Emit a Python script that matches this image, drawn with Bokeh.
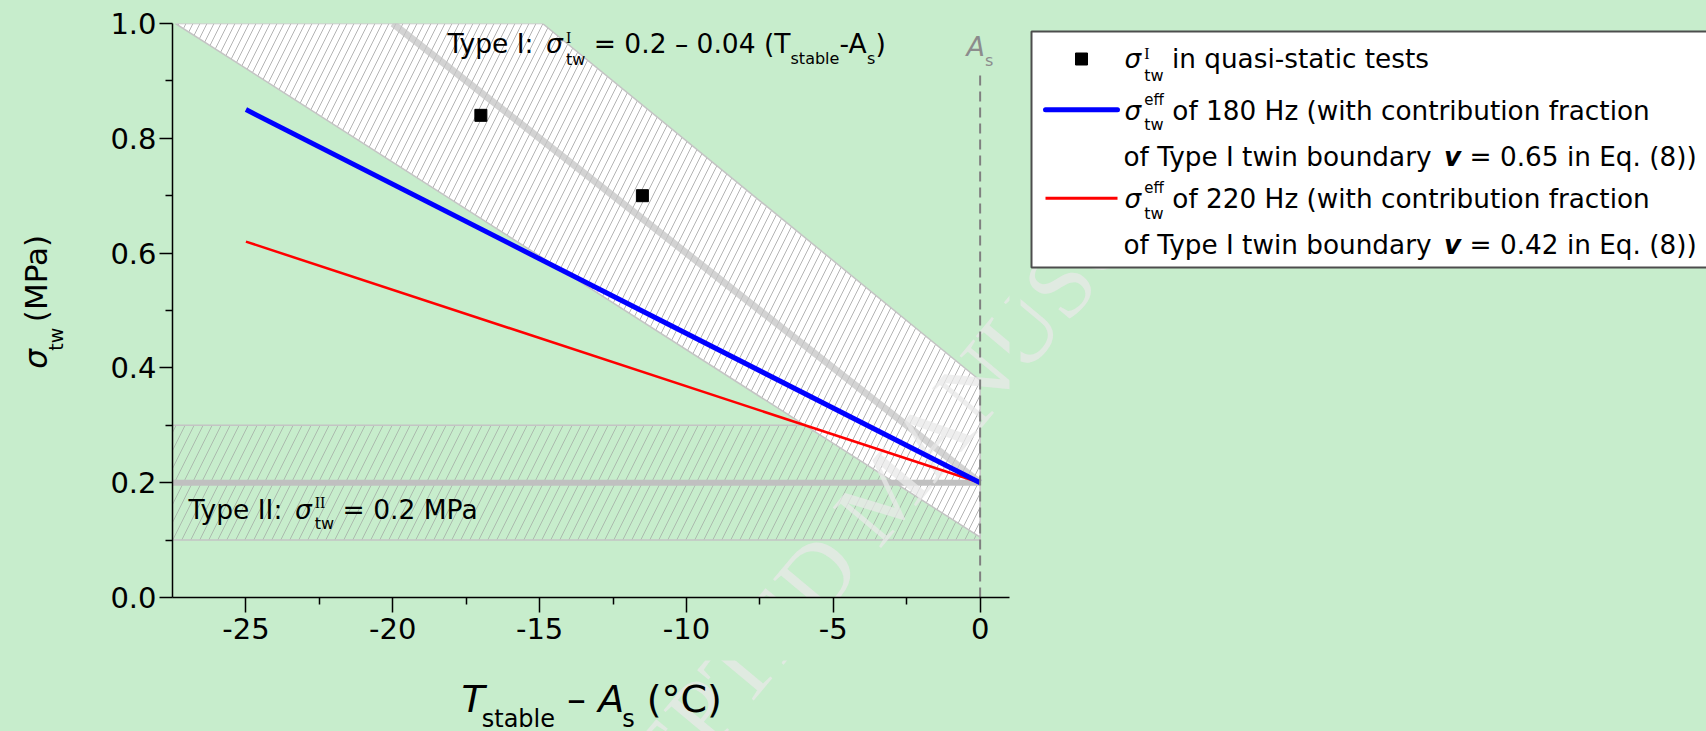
import math
from bokeh.plotting import figure
from bokeh.models import Label, Range1d, FixedTicker, NumeralTickFormatter
from bokeh.layouts import row, column
from bokeh.embed import file_html
from bokeh.resources import INLINE
from bokeh.core.properties import value

# ---------------- data ----------------
x_ticks = [-25, -20, -15, -10, -5, 0]
x_minor = [-22.5, -17.5, -12.5, -7.5, -2.5]
y_ticks = [0.0, 0.2, 0.4, 0.6, 0.8, 1.0]
y_minor = [0.1, 0.3, 0.5, 0.7, 0.9]

quasi_T = [-17.0, -11.5]
quasi_sigma = [0.84, 0.70]

eff180_T = [-25.0, 0.0]
eff180_sigma = [0.85, 0.20]
eff220_T = [-25.0, 0.0]
eff220_sigma = [0.62, 0.20]

typeI_T = [-20.0, 0.0]
typeI_sigma = [1.0, 0.2]
typeI_band_T = [-27.4, -14.9, 0.0, 0.0]
typeI_band_sigma = [1.0, 1.0, 0.378, 0.105]

typeII_T = [-27.5, 0.0]
typeII_sigma = [0.2, 0.2]
typeII_low = [0.1]
typeII_high = [0.3]

As_T = [0.0, 0.0]
As_sigma = [0.0, 0.915]

X_RANGE = (-27.5, 1.0)
Y_RANGE = (0.0, 1.0)

# ---------------- styling / geometry ----------------
BG = "#C7EDCC"
SANS = "DejaVu Sans"
SERIF = "Liberation Serif"
H = 731
MAINW = 1020          # width of the plot column (y title + main plot)
LEGW = 1706 - MAINW
YW = 95               # width of the strip holding the y title
MH = 660              # height of the main plot (x title strip below)
FL, FR, FT, FB = 172, 1009, 23, 597   # frame edges in page pixels
K = 0.36              # baseline correction (fraction of font size)

DJ = {' ': .318, '!': .401, '(': .390, ')': .390, '-': .361, '.': .318, ':': .337,
      '=': .838, '°': .5, '–': .5, '−': .838, 'σ': .635,
      'A': .684, 'C': .698, 'E': .632, 'H': .752, 'I': .295, 'M': .863, 'P': .603, 'T': .611,
      'a': .613, 'b': .635, 'c': .550, 'd': .635, 'e': .615, 'f': .352, 'h': .634, 'i': .278,
      'l': .278, 'n': .634, 'o': .612, 'p': .635, 'q': .635, 'r': .411, 's': .521, 't': .392,
      'u': .634, 'v': .592, 'w': .818, 'y': .592, 'z': .525}
for _d in "0123456789":
    DJ[_d] = .636


def textw(t, size, font=SANS, style="normal"):
    if font == SERIF:
        return sum(.333 if c == 'I' else .5 for c in t) * size
    w = sum(DJ.get(c, .6) for c in t) * size
    if "bold" in style:
        w *= 1.1
    return w


def put(fig, X, Y, text, size, style="normal", font=SANS, color="black", angle=0.0, screen=True):
    if angle == 0.0:
        Y = Y - K * size
    else:
        X = X - K * size
    if screen:
        kw = dict(x=X - FL, y=FB - Y, x_units="screen", y_units="screen")
    else:
        kw = dict(x=X, y=Y, x_units="data", y_units="data")
    fig.add_layout(Label(text=text, text_font=font, text_font_size=f"{size}px",
                         text_font_style=style, text_color=color, text_align="left",
                         text_baseline="alphabetic", angle=angle, angle_units="rad", **kw))


def rich(fig, X, Y, pieces, screen=True, vertical=False, color="black"):
    x = 0.0
    stackw = None
    for pc in pieces:
        t, size = pc["t"], pc["s"]
        font = pc.get("f", SANS)
        style = pc.get("st", "normal")
        x += pc.get("gap", 0)
        w = textw(t, size, font, style)
        lead = len(t) - len(t.lstrip(" "))
        off = textw(" " * lead, size)
        dy = pc.get("dy", 0)
        if vertical:
            put(fig, X + dy, Y - x - off, t.strip(), size, style, font, color, math.pi / 2, screen)
        else:
            put(fig, X + x + off, Y + dy, t.strip(), size, style, font, color, 0.0, screen)
        if pc.get("stack"):
            stackw = max(stackw or 0, w)
        else:
            x += max(w, stackw or 0)
            stackw = None


# faint diagonal watermark of the source page
WM_TEXT = "ACCEPTED MANUSCRIPT"
WM_ANG = 0.875
WM_SIZE = 96
WM_X = 547 - math.sin(WM_ANG) * K * WM_SIZE
WM_Y = 950 - math.cos(WM_ANG) * K * WM_SIZE


def watermark(fig, conv):
    x, y = conv(WM_X, WM_Y)
    fig.text([x], [y], text=[WM_TEXT], angle=WM_ANG, text_font=value(SERIF),
             text_font_size=value(f"{WM_SIZE}px"), text_color="#e8e8e8", text_alpha=0.75,
             text_align="left", text_baseline="alphabetic")


def plain_fig(w, h, xr, yr):
    f = figure(width=w, height=h, x_range=Range1d(*xr), y_range=Range1d(*yr),
               output_backend="svg", toolbar_location=None, title=None,
               x_axis_location=None, y_axis_location=None, min_border=0)
    f.background_fill_color = BG
    f.border_fill_color = BG
    f.outline_line_color = None
    f.xgrid.visible = False
    f.ygrid.visible = False
    return f


# ---------------- main plot ----------------
p = figure(width=MAINW - YW, height=MH, x_range=Range1d(*X_RANGE), y_range=Range1d(*Y_RANGE),
           output_backend="svg", toolbar_location=None, title=None,
           min_border_left=FL - YW, min_border_right=MAINW - FR,
           min_border_top=FT, min_border_bottom=MH - FB)
p.background_fill_color = BG
p.border_fill_color = BG
p.outline_line_color = None
p.xgrid.visible = False
p.ygrid.visible = False

pxu = (FR - FL) / (X_RANGE[1] - X_RANGE[0])
pyu = (FB - FT) / (Y_RANGE[1] - Y_RANGE[0])


def main_conv(X, Y):
    return X_RANGE[0] + (X - FL) / pxu, Y_RANGE[0] + (FB - Y) / pyu


# Type II band
p.quad(left=[typeII_T[0]], right=[typeII_T[1]], bottom=typeII_low, top=typeII_high,
       fill_alpha=0.0, line_color="#c4c4c4", line_width=1.5,
       hatch_pattern="/", hatch_color="#9a9a9a", hatch_alpha=0.6, hatch_scale=18, hatch_weight=1)
# Type I band
p.patch(typeI_band_T, typeI_band_sigma, fill_color="white", line_color="#c4c4c4", line_width=1.5,
        hatch_pattern="/", hatch_color="#b4b4b4", hatch_scale=14, hatch_weight=1)
# centre lines
p.line(typeII_T, typeII_sigma, line_color="#c0c0c0", line_width=6)
p.line(typeI_T, typeI_sigma, line_color="#c4c4c4", line_width=7, line_alpha=0.75)
watermark(p, main_conv)
# effective curves
p.line(eff220_T, eff220_sigma, line_color="#ff0000", line_width=2.5)
p.line(eff180_T, eff180_sigma, line_color="#0000ff", line_width=5)
# quasi-static points
p.scatter(quasi_T, quasi_sigma, marker="square", size=12, fill_color="black", line_color="black")
# A_s dashed line
p.line(As_T, As_sigma, line_color="#808080", line_width=2, line_dash="10 6")

# axes
for ax, ticks, minor, out in ((p.xaxis, x_ticks, x_minor, 15), (p.yaxis, y_ticks, y_minor, 13)):
    ax.ticker = FixedTicker(ticks=ticks, minor_ticks=minor)
    ax.axis_line_width = 1.5
    ax.axis_line_color = "black"
    ax.major_tick_line_width = 1.5
    ax.minor_tick_line_width = 1.5
    ax.major_tick_in = 0
    ax.major_tick_out = out
    ax.minor_tick_in = 0
    ax.minor_tick_out = 7
    ax.major_label_text_font = SANS
    ax.major_label_text_font_size = "29px"
    ax.major_label_text_color = "black"
p.xaxis.formatter = NumeralTickFormatter(format="0")
p.yaxis.formatter = NumeralTickFormatter(format="0.0")
p.xaxis.major_label_standoff = 5
p.yaxis.major_label_standoff = 3

# annotations inside the frame
rich(p, 447, 53, [
    dict(t="Type I: ", s=26.5),
    dict(t="σ", s=26.5, st="italic"),
    dict(t="I", s=16, f=SERIF, dy=-10, gap=3, stack=True),
    dict(t="tw", s=16, dy=12),
    dict(t=" = 0.2 – 0.04 (", s=26.5),
    dict(t="T", s=26.5),
    dict(t="stable", s=16, dy=11),
    dict(t="-A", s=26.5),
    dict(t="s", s=16, dy=11),
    dict(t=")", s=26.5),
])
rich(p, 188, 519, [
    dict(t="Type II: ", s=26.5),
    dict(t="σ", s=26.5, st="italic"),
    dict(t="II", s=16, f=SERIF, dy=-11, gap=3, stack=True),
    dict(t="tw", s=16, dy=10),
    dict(t=" = 0.2 MPa", s=26.5),
])
rich(p, 966, 56, [
    dict(t="A", s=27, st="italic"),
    dict(t="s", s=16, dy=10),
], color="#8c8c8c")

# ---------------- y title strip ----------------
ylab = plain_fig(YW, MH, (0, YW), (MH, 0))
rich(ylab, 47, 397, [
    dict(t="σ", s=31, st="italic"),
    dict(t="tw", s=19, dy=15, gap=1),
    dict(t=" (MPa)", s=31),
], screen=False, vertical=True)

# ---------------- x title strip ----------------
xlab = plain_fig(MAINW, H - MH, (0, MAINW), (H, MH))
watermark(xlab, lambda X, Y: (X, Y))
rich(xlab, 461, 712, [
    dict(t="T", s=38, st="italic"),
    dict(t="stable", s=24, dy=15, gap=-3),
    dict(t=" – ", s=38),
    dict(t="A", s=38, st="italic"),
    dict(t="s", s=24, dy=15, gap=-2),
    dict(t=" (°C)", s=38),
], screen=False)

# ---------------- legend panel ----------------
lg = plain_fig(LEGW, H, (MAINW, 1706), (H, 0))
watermark(lg, lambda X, Y: (X, Y))
lg.quad(left=[1031], right=[1715], top=[31], bottom=[267], fill_color="white",
        line_color="#4d4d4d", line_width=2)
lg.scatter([1081], [58.5], marker="square", size=12, fill_color="black", line_color="black")
lg.line([1045, 1117], [109.3, 109.3], line_color="#0000ff", line_width=5, line_cap="round")
lg.line([1045, 1117], [197.7, 197.7], line_color="#ff0000", line_width=3)

LS = 26.3
rich(lg, 1124, 68.3, [
    dict(t="σ", s=LS, st="italic"),
    dict(t="I", s=16, f=SERIF, dy=-10, gap=3, stack=True),
    dict(t="tw", s=16, dy=12),
    dict(t=" in quasi-static tests", s=LS),
], screen=False)
for yb, hz, nu in ((120, "180", "0.65"), (208.3, "220", "0.42")):
    rich(lg, 1124, yb, [
        dict(t="σ", s=LS, st="italic"),
        dict(t="eff", s=15, dy=-15, gap=3, stack=True),
        dict(t="tw", s=16, dy=10),
        dict(t=f" of {hz} Hz (with contribution fraction", s=LS),
    ], screen=False)
    rich(lg, 1123, yb + 45.5, [
        dict(t="of Type I twin boundary ", s=LS),
        dict(t="v", s=LS, st="bold italic"),
        dict(t=f" = {nu} in Eq. (8))", s=LS),
    ], screen=False)

layout = row(column(row(ylab, p), xlab), lg)
html = file_html(layout, INLINE)
html = html.replace("</head>",
                    f"<style>html,body{{margin:0;padding:0;background:{BG};}}</style></head>", 1)
open("out.html", "w").write(html)
